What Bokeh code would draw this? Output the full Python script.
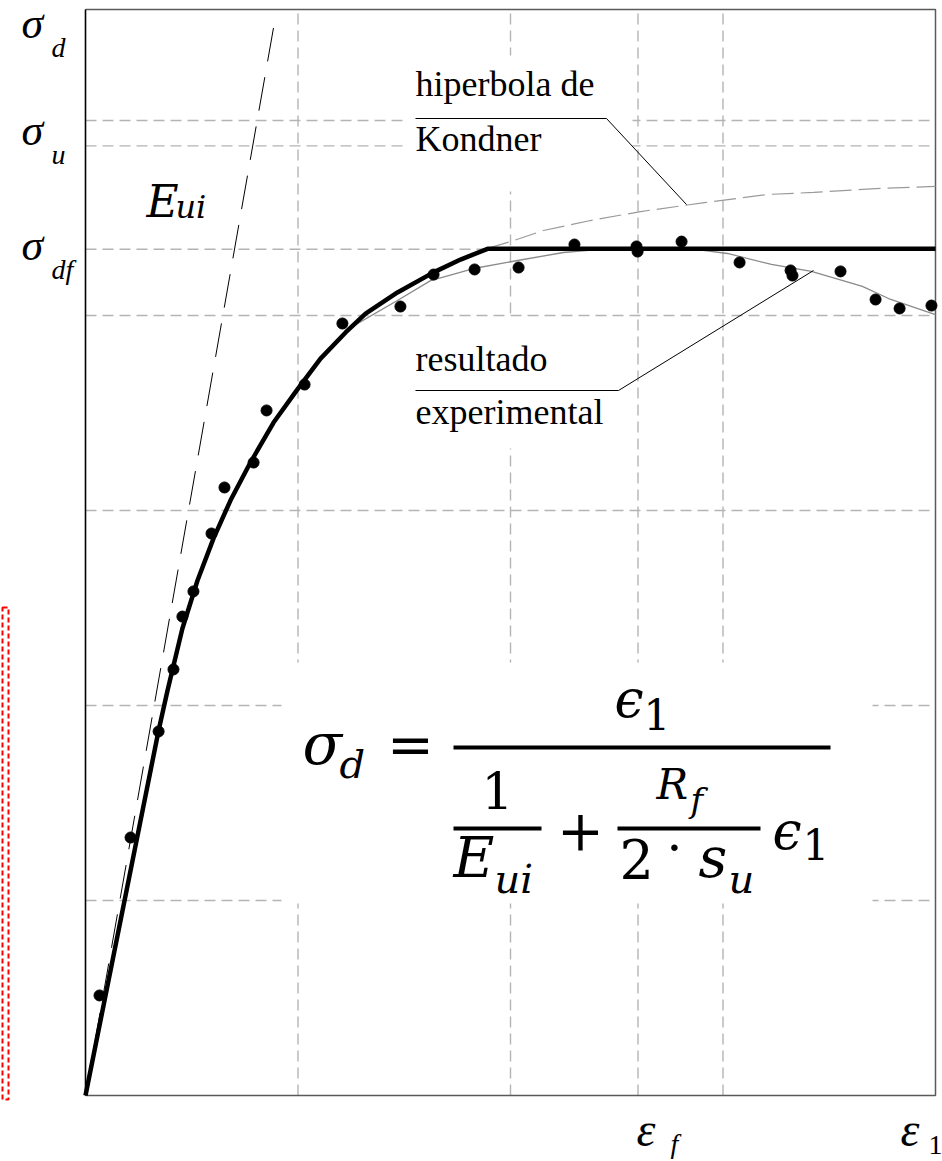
from bokeh.plotting import figure
from bokeh.models import Range1d, Label
from bokeh.embed import file_html
from bokeh.resources import INLINE

# ---------------- data (chart units) ----------------
# experimental points (strain, deviator stress)
exp_eps = [0.066, 0.212, 0.344, 0.414, 0.456, 0.508, 0.593, 0.654, 0.791, 0.852,
           1.031, 1.209, 1.482, 1.638, 1.831, 2.038, 2.301, 2.593, 2.598, 2.805,
           3.078, 3.318, 3.327, 3.553, 3.718, 3.831, 3.981]
exp_sig = [0.513, 1.323, 1.867, 2.185, 2.456, 2.585, 2.882, 3.118, 3.246, 3.513,
           3.646, 3.959, 4.046, 4.210, 4.236, 4.246, 4.364, 4.354, 4.328, 4.379,
           4.272, 4.231, 4.205, 4.226, 4.082, 4.036, 4.051]

# Kondner model truncated at sigma_df (thick black)
fit_eps = [0.0, 0.344, 0.386, 0.456, 0.527, 0.602, 0.682, 0.776, 0.885, 0.993,
           1.106, 1.224, 1.318, 1.468, 1.638, 1.765, 1.892, 4.0]
fit_sig = [0.0, 1.872, 2.077, 2.395, 2.641, 2.856, 3.051, 3.246, 3.451, 3.615,
           3.779, 3.913, 4.010, 4.118, 4.221, 4.287, 4.342, 4.342]

# experimental trend curve (thin grey)
trend_eps = [0.0, 0.344, 0.386, 0.456, 0.527, 0.602, 0.682, 0.776, 0.885, 0.993,
             1.106, 1.247, 1.468, 1.624, 1.826, 2.033, 2.249, 2.409, 2.612, 2.880,
             3.021, 3.228, 3.416, 3.656, 3.779, 4.0]
trend_sig = [0.0, 1.872, 2.077, 2.395, 2.641, 2.856, 3.051, 3.246, 3.451, 3.615,
             3.779, 3.938, 4.077, 4.179, 4.241, 4.282, 4.323, 4.338, 4.344, 4.338,
             4.318, 4.262, 4.226, 4.149, 4.087, 4.005]

# Kondner hyperbola continuation (grey dashed)
hyp_eps = [1.892, 2.0, 2.155, 2.376, 2.612, 2.913, 3.214, 3.426, 3.718, 4.0]
hyp_sig = [4.344, 4.379, 4.436, 4.487, 4.533, 4.579, 4.621, 4.631, 4.651, 4.662]

# initial tangent modulus E_ui (dashed)
eui_eps = [0.0, 0.885]
eui_sig = [0.0, 5.477]

# reference levels / grid
x_grid_ticks = [1.0, 2.0, 2.6, 3.0]
y_grid_ticks = [1.0, 2.0, 3.0, 4.0, 4.34, 4.87, 5.0]
y_tick_values = [5.48, 4.93, 4.34]
y_tick_labels = ["σ", "σ", "σ"]
y_tick_subs = ["d", "u", "df"]
x_tick_values = [2.6, 4.0]
x_tick_labels = ["ε", "ε"]
x_tick_subs = ["f", "1"]

# ---------------- layout helpers ----------------
W, H = 942, 1161
L, R, T, B = 85, 935, 9, 1095
XMAX = 4.0
PXX = (R - L) / XMAX      # pixels per x unit
PXY = 195.0               # pixels per y unit
YMAX = (B - T) / PXY
KB = 0.37                 # baseline correction (fraction of font size)


def px2x(px):
    return (px - L) / PXX


def py2y(py):
    return (B - py) / PXY


def x2px(x):
    return L + x * PXX


def y2py(y):
    return B - y * PXY


p = figure(width=W, height=H,
           x_range=Range1d(px2x(0), px2x(W)), y_range=Range1d(py2y(H), py2y(0)),
           output_backend="svg", toolbar_location=None,
           x_axis_location=None, y_axis_location=None, min_border=0)
p.background_fill_color = "white"
p.border_fill_color = "white"
p.outline_line_color = None
p.xgrid.visible = False
p.ygrid.visible = False

# dashed grid inside the plot box
GRID = dict(line_color="#b4b4b4", line_width=1.4, line_dash="11 6")
p.segment(x0=x_grid_ticks, x1=x_grid_ticks, y0=[0] * len(x_grid_ticks),
          y1=[YMAX] * len(x_grid_ticks), **GRID)
p.segment(x0=[0] * len(y_grid_ticks), x1=[XMAX] * len(y_grid_ticks),
          y0=y_grid_ticks, y1=y_grid_ticks, **GRID)

# white boxes behind annotations (hide grid)
boxes = [(405, 632, 55, 191), (405, 600, 318, 448), (281, 872, 662, 903)]
p.quad(left=[px2x(b[0]) for b in boxes], right=[px2x(b[1]) for b in boxes],
       top=[py2y(b[2]) for b in boxes], bottom=[py2y(b[3]) for b in boxes],
       fill_color="white", line_color=None)

# plot box
p.line([0, XMAX, XMAX, 0], [YMAX, YMAX, 0, 0], line_color="#5a5a5a", line_width=1.5)
p.line([0, 0], [0, YMAX], line_color="black", line_width=1.6)

# curves
p.line(eui_eps, eui_sig, line_color="black", line_width=1, line_dash="34 16")
p.line(hyp_eps, hyp_sig, line_color="#9a9a9a", line_width=1.2, line_dash="22 7")
p.line(trend_eps, trend_sig, line_color="#8a8a8a", line_width=1.3)
p.line(fit_eps, fit_sig, line_color="black", line_width=4.5)
p.scatter(exp_eps, exp_sig, size=11, color="black")

# leader lines
p.line([px2x(v) for v in (415, 606, 686)], [py2y(v) for v in (118, 118, 204)],
       line_color="black", line_width=1)
p.line([px2x(v) for v in (415, 618, 813)], [py2y(v) for v in (390, 390, 270)],
       line_color="black", line_width=1)

# formula fraction bars
bars = [(453, 830, 747), (453, 541, 828), (617, 760, 828)]
p.segment(x0=[px2x(b[0]) for b in bars], x1=[px2x(b[1]) for b in bars],
          y0=[py2y(b[2]) for b in bars], y1=[py2y(b[2]) for b in bars],
          line_color="black", line_width=4)

# dashed red frame at the left margin
p.quad(left=[px2x(2)], right=[px2x(8)], top=[py2y(607)], bottom=[py2y(1099)],
       fill_alpha=0, line_color="red", line_width=2, line_dash="5 3")


def lab(px, py, text, size, font="Liberation Serif", style="normal", align="left"):
    """py is the wanted baseline in pixels from the top."""
    p.add_layout(Label(x=px2x(px), y=py2y(py - KB * size), text=text, text_font=font,
                       text_font_size=f"{size}px", text_font_style=style,
                       text_align=align, text_baseline="alphabetic",
                       text_color="black"))


SER = "Liberation Serif"
# y tick labels (sigma_d, sigma_u, sigma_df)
for v, t, s in zip(y_tick_values, y_tick_labels, y_tick_subs):
    base = y2py(v) + 13
    lab(21, base, t, 44, SER, "italic")
    lab(51, base + 18, s, 28, SER, "italic")

# x tick labels (eps_f, eps_1)
x_label_left = [636, 900]
for xl, t, s in zip(x_label_left, x_tick_labels, x_tick_subs):
    lab(xl, 1147, t, 48, SER, "italic")
    if s == "f":
        lab(xl + 34, 1153, s, 28, SER, "italic")
    else:
        lab(xl + 28, 1155, s, 28, SER, "normal")

# annotations
lab(415, 97, "hiperbola de", 36, SER)
lab(415, 152, "Kondner", 36, SER)
lab(415, 372, "resultado", 36, SER)
lab(415, 425, "experimental", 36, SER)

MF = "DejaVu Serif"
lab(146, 217, "E", 44, MF, "italic")
lab(175, 218, "ui", 32, MF, "italic")

# formula
lab(302, 765, "σ", 58, MF, "italic")
lab(339, 778, "d", 40, MF, "italic")
lab(410, 765, "=", 56, MF, "normal", "center")
lab(614, 718, "ϵ", 52, MF, "italic")
lab(643, 730, "1", 42, MF, "normal")
lab(497, 808, "1", 50, MF, "normal", "center")
lab(453, 878, "E", 56, MF, "italic")
lab(494, 893, "ui", 40, MF, "italic")
lab(580, 850, "+", 56, MF, "normal", "center")
lab(656, 800, "R", 42, MF, "italic")
lab(690, 812, "f", 34, MF, "italic")
lab(619, 878, "2", 54, MF, "normal")
lab(674, 866, "·", 50, MF, "normal", "center")
lab(698, 878, "s", 56, MF, "italic")
lab(728, 893, "u", 40, MF, "italic")
lab(772, 850, "ϵ", 52, MF, "italic")
lab(802, 860, "1", 42, MF, "normal")

open("out.html", "w").write(file_html(p, INLINE))
